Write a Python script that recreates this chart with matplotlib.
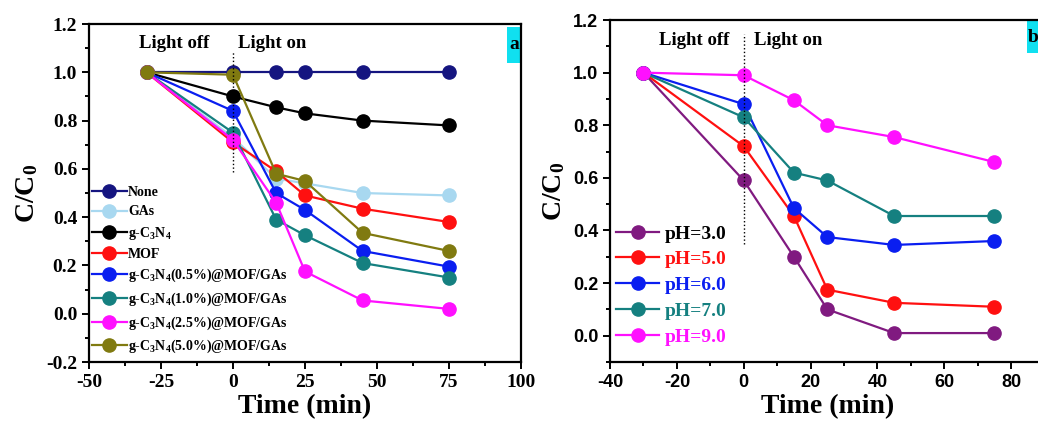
import numpy as np
import matplotlib
matplotlib.use("Agg")
import matplotlib.pyplot as plt
from matplotlib.patches import Rectangle
from matplotlib.ticker import MultipleLocator, FormatStrFormatter

plt.rcParams['font.family'] = 'Liberation Serif'
plt.rcParams['font.weight'] = 'bold'
plt.rcParams['axes.unicode_minus'] = False
plt.rcParams['mathtext.fontset'] = 'custom'
plt.rcParams['mathtext.rm'] = 'Liberation Serif:bold'
plt.rcParams['mathtext.it'] = 'Liberation Serif:bold'
plt.rcParams['mathtext.bf'] = 'Liberation Serif:bold'

#%% data
time = [-30, 0, 15, 25, 45, 75]

# panel a: catalysts
labels_a = ["None", "GAs", r"g-C$_3$N$_4$", "MOF",
            r"g-C$_3$N$_4$(0.5%)@MOF/GAs", r"g-C$_3$N$_4$(1.0%)@MOF/GAs",
            r"g-C$_3$N$_4$(2.5%)@MOF/GAs", r"g-C$_3$N$_4$(5.0%)@MOF/GAs"]
none_ = [1.0, 1.0, 1.0, 1.0, 1.0, 1.0]
gas = [1.0, 0.73, 0.56, 0.54, 0.50, 0.49]
gcn = [1.0, 0.90, 0.855, 0.83, 0.80, 0.78]
mof = [1.0, 0.71, 0.59, 0.49, 0.435, 0.38]
cat05 = [1.0, 0.84, 0.50, 0.43, 0.26, 0.195]
cat10 = [1.0, 0.75, 0.39, 0.325, 0.21, 0.15]
cat25 = [1.0, 0.72, 0.46, 0.175, 0.055, 0.02]
cat50 = [1.0, 0.99, 0.58, 0.55, 0.335, 0.26]
series_a = [none_, gas, gcn, mof, cat05, cat10, cat25, cat50]
colors_a = ['#151580', '#a8d8f0', '#000000', '#ff1010',
            '#0a1ef0', '#158080', '#ff10ff', '#807a10']

# panel b: pH
labels_b = ["pH=3.0", "pH=5.0", "pH=6.0", "pH=7.0", "pH=9.0"]
ph3 = [1.0, 0.59, 0.30, 0.10, 0.01, 0.01]
ph5 = [1.0, 0.72, 0.455, 0.175, 0.125, 0.11]
ph6 = [1.0, 0.88, 0.485, 0.375, 0.345, 0.36]
ph7 = [1.0, 0.83, 0.62, 0.59, 0.455, 0.455]
ph9 = [1.0, 0.99, 0.895, 0.80, 0.755, 0.66]
series_b = [ph3, ph5, ph6, ph7, ph9]
colors_b = ['#801a80', '#ff1010', '#0a1ef0', '#158080', '#ff10ff']
text_colors_b = ['#000000', '#ff1010', '#0a1ef0', '#158080', '#ff10ff']

#%%
fig = plt.figure(figsize=(10.38, 4.26), dpi=100)
ax1 = fig.add_axes([0.0857, 0.1502, 0.4162, 0.7934])
ax2 = fig.add_axes([0.5877, 0.1502, 0.4187, 0.8028])


def style_axes(ax, tickfont, size):
    for s in ['top', 'right', 'left', 'bottom']:
        ax.spines[s].set_linewidth(1.6)
    ax.tick_params(which='both', direction='out', top=False, right=False, width=1.4)
    ax.tick_params(which='major', length=5)
    ax.tick_params(which='minor', length=3)
    for lab in ax.get_xticklabels() + ax.get_yticklabels():
        lab.set_fontfamily(tickfont)
        lab.set_fontweight('bold')
        lab.set_fontsize(size)


def draw(ax, series, colors, labels):
    for y, c, lab in zip(series, colors, labels):
        ax.plot(time, y, '-o', color=c, lw=1.6, ms=9.5, mec=c, mfc=c, label=lab)


# panel a
draw(ax1, series_a, colors_a, labels_a)
ax1.set_xlim(-50, 100)
ax1.set_ylim(-0.2, 1.2)
ax1.xaxis.set_major_locator(MultipleLocator(25))
ax1.xaxis.set_minor_locator(MultipleLocator(12.5))
ax1.yaxis.set_major_locator(MultipleLocator(0.2))
ax1.yaxis.set_minor_locator(MultipleLocator(0.1))
ax1.yaxis.set_major_formatter(FormatStrFormatter('%.1f'))
ax1.plot([0, 0], [0.585, 1.09], ':', color='k', lw=1)
ax1.text(-20.5, 1.12, "Light off", ha='center', va='center', fontsize=13.5, fontweight='bold')
ax1.text(1.7, 1.12, "Light on", ha='left', va='center', fontsize=13.5, fontweight='bold')
ax1.set_xlabel("Time (min)", fontsize=20, fontweight='bold', labelpad=2)
ax1.set_ylabel(r"C/C$_0$", fontsize=20, fontweight='bold', labelpad=4)
ax1.add_patch(Rectangle((0.9676, 0.885), 0.0324, 0.106, transform=ax1.transAxes,
                        facecolor='#10e0f0', edgecolor='none', clip_on=False))
ax1.text(0.984, 0.938, 'a', transform=ax1.transAxes, ha='center', va='center',
         fontsize=14, fontweight='bold')
leg1 = ax1.legend(loc='upper left', bbox_to_anchor=(-0.012, 0.545), frameon=False,
                  fontsize=10, handlelength=2.5, handletextpad=0.1, labelspacing=0.45,
                  borderaxespad=0.2)
style_axes(ax1, 'Liberation Serif', 14)

# panel b
draw(ax2, series_b, colors_b, labels_b)
ax2.set_xlim(-40, 90)
ax2.set_ylim(-0.1, 1.2)
ax2.xaxis.set_major_locator(MultipleLocator(20))
ax2.xaxis.set_minor_locator(MultipleLocator(10))
ax2.yaxis.set_major_locator(MultipleLocator(0.2))
ax2.yaxis.set_minor_locator(MultipleLocator(0.1))
ax2.yaxis.set_major_formatter(FormatStrFormatter('%.1f'))
ax2.plot([0, 0], [0.35, 1.145], ':', color='k', lw=1)
ax2.text(-14.8, 1.124, "Light off", ha='center', va='center', fontsize=13.5, fontweight='bold')
ax2.text(3.2, 1.124, "Light on", ha='left', va='center', fontsize=13.5, fontweight='bold')
ax2.set_xlabel("Time (min)", fontsize=20, fontweight='bold', labelpad=2)
ax2.set_ylabel(r"C/C$_0$", fontsize=20, fontweight='bold', labelpad=4)
ax2.add_patch(Rectangle((0.9595, 0.9035), 0.06, 0.1, transform=ax2.transAxes,
                        facecolor='#10e0f0', edgecolor='none', clip_on=False))
ax2.text(0.962, 0.95, 'b', transform=ax2.transAxes, ha='left', va='center',
         fontsize=14, fontweight='bold')
leg2 = ax2.legend(loc='upper left', bbox_to_anchor=(-0.012, 0.435), frameon=False,
                  fontsize=14, handlelength=2.2, handletextpad=0.3, labelspacing=0.42,
                  borderaxespad=0.2)
for t, c in zip(leg2.get_texts(), text_colors_b):
    t.set_color(c)
style_axes(ax2, 'Liberation Sans', 13)

plt.savefig("out.png", dpi=100)
